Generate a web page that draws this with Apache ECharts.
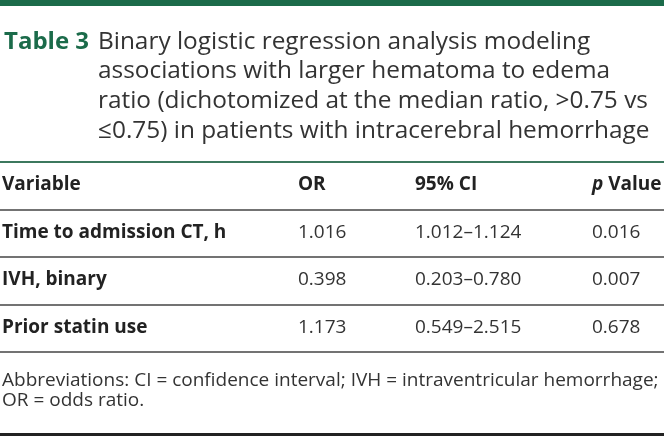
<!DOCTYPE html>
<html>
<head>
<meta charset="utf-8">
<script src="https://cdn.jsdelivr.net/npm/echarts@6/dist/echarts.min.js"></script>
<style>
html,body{margin:0;padding:0;background:#fff;}
#chart{width:664px;height:436px;}
</style>
</head>
<body>
<div id="chart"></div>
<script>
// ---- data ----
const tableLabel = 'Table 3';
const titleLines = [
  'Binary logistic regression analysis modeling',
  'associations with larger hematoma to edema',
  'ratio (dichotomized at the median ratio, >0.75 vs',
  '\u22640.75) in patients with intracerebral hemorrhage'
];
const columns = ['Variable', 'OR', '95% CI', 'p Value'];
const variables = ['Time to admission CT, h', 'IVH, binary', 'Prior statin use'];
const oddsRatios = [1.016, 0.398, 1.173];
const ciLower = [1.012, 0.203, 0.549];
const ciUpper = [1.124, 0.780, 2.515];
const pValues = [0.016, 0.007, 0.678];
const footnoteLines = [
  'Abbreviations: CI = confidence interval; IVH = intraventricular hemorrhage;',
  'OR = odds ratio.'
];

// ---- layout / style ----
const FONT = '"Open Sans", "Noto Sans", sans-serif';
const GREEN = '#1b6b4a';
const colX = [2, 298, 415, 592];

const rowCats = [columns[0]].concat(variables);
const cells = [];
columns.forEach((c, i) => cells.push({ col: i, row: 0, text: c, kind: 'head' }));
variables.forEach((v, r) => {
  cells.push({ col: 0, row: r + 1, text: v, kind: 'var' });
  cells.push({ col: 1, row: r + 1, text: oddsRatios[r].toFixed(3), kind: 'num' });
  cells.push({ col: 2, row: r + 1, text: ciLower[r].toFixed(3) + '\u2013' + ciUpper[r].toFixed(3), kind: 'num' });
  cells.push({ col: 3, row: r + 1, text: pValues[r].toFixed(3), kind: 'num' });
});

const chart = echarts.init(document.getElementById('chart'), null, { renderer: 'canvas' });
chart.setOption({
  backgroundColor: '#fff',
  animation: false,
  title: [
    { text: tableLabel, left: 4, top: 27, padding: 0,
      textStyle: { fontFamily: FONT, fontSize: 24, fontWeight: 'bold', color: GREEN, lineHeight: 29.6 } },
    { text: titleLines.join('\n'), left: 98, top: 27, padding: 0,
      textStyle: { fontFamily: FONT, fontSize: 24.4, fontWeight: 'normal', color: '#333', lineHeight: 29.6 } },
    { text: footnoteLines.join('\n'), left: 2, top: 371, padding: 0,
      textStyle: { fontFamily: FONT, fontSize: 19, fontWeight: 'normal', color: '#333', lineHeight: 20 } }
  ],
  graphic: [
    { type: 'rect', shape: { x: 0, y: 0, width: 664, height: 6 }, style: { fill: GREEN } },
    { type: 'rect', shape: { x: 0, y: 433, width: 664, height: 3 }, style: { fill: '#222' } }
  ],
  grid: { left: 0, right: 0, top: 162, height: 190, containLabel: false },
  xAxis: {
    type: 'value', min: 0, max: 664, position: 'top',
    axisLine: { show: true, onZero: false, lineStyle: { color: '#2a7a57', width: 1.6 } },
    axisTick: { show: false }, axisLabel: { show: false }, splitLine: { show: false }
  },
  yAxis: {
    type: 'category', data: rowCats, inverse: true,
    axisLine: { show: false }, axisTick: { show: false }, axisLabel: { show: false },
    splitLine: { show: true, lineStyle: { color: '#444', width: 1.5 } }
  },
  series: [{
    type: 'custom',
    data: cells.map(c => [c.col, c.row]),
    renderItem: function (params, api) {
      const cell = cells[params.dataIndex];
      const pt = api.coord([colX[cell.col], cell.row]);
      const bold = cell.kind !== 'num';
      const style = {
        text: cell.text,
        x: 0, y: 0,
        font: (bold ? 'bold ' : '') + '19px ' + FONT,
        fill: bold ? '#222' : '#333',
        align: 'left',
        verticalAlign: 'middle'
      };
      if (cell.kind === 'head' && cell.text === 'p Value') {
        style.text = '{i|p} Value';
        style.rich = { i: { fontStyle: 'italic', fontWeight: 'bold', fontSize: 19, fontFamily: FONT, fill: '#222' } };
        style.fontWeight = 'bold';
        style.fontSize = 19;
        style.fontFamily = FONT;
        delete style.font;
      }
      return { type: 'text', x: pt[0], y: pt[1] - 1, style: style };
    }
  }]
});
</script>
</body>
</html>
